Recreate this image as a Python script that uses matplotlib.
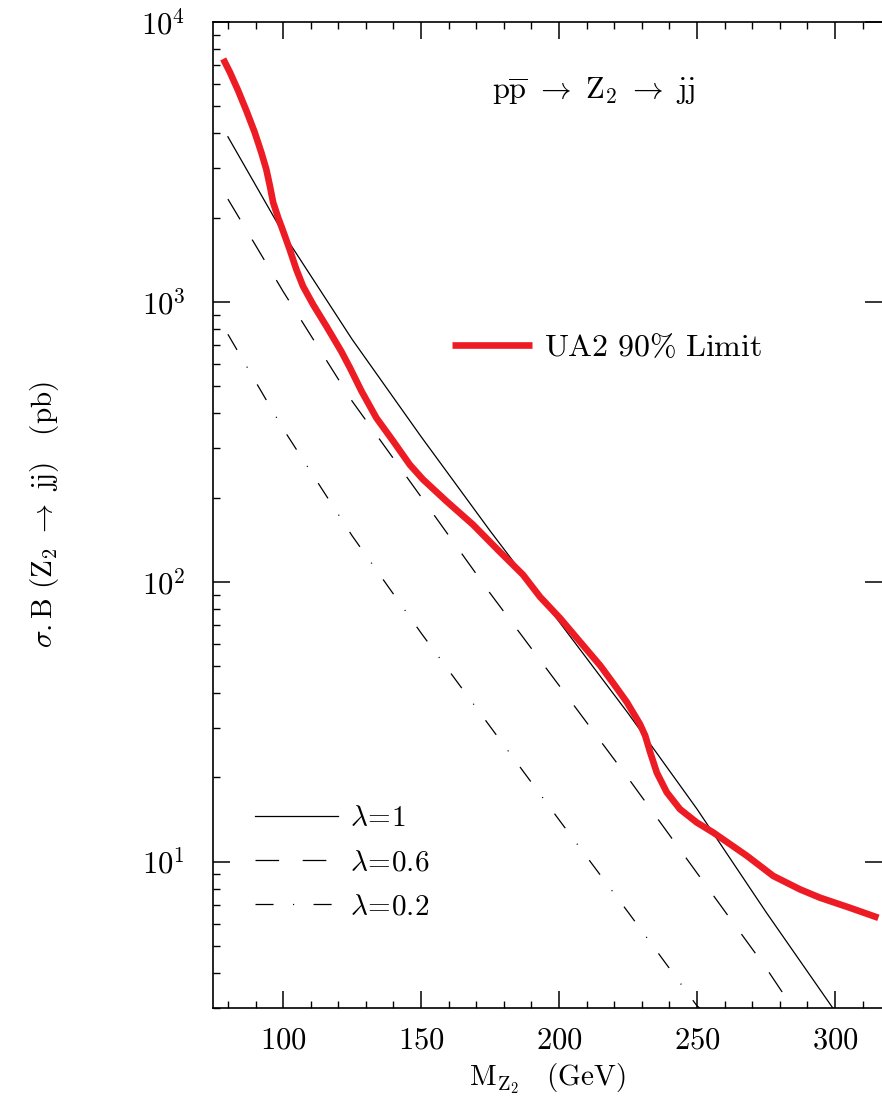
import matplotlib
matplotlib.use('Agg')
import matplotlib.pyplot as plt
from matplotlib.ticker import MultipleLocator, FuncFormatter, LogLocator, NullFormatter
import numpy as np

plt.rcParams['mathtext.fontset'] = 'cm'
plt.rcParams['font.family'] = ['DejaVu Serif']
plt.rcParams['lines.scale_dashes'] = False

# ---- data ----
mass_lam1 = [80, 100, 125, 150, 175, 200, 225, 250, 275, 300]
sigma_lam1 = [3890, 1760, 735, 330, 152, 72, 33.9, 15.4, 6.6, 2.92]

mass_lam06 = [80, 100, 125, 150, 175, 200, 225, 250, 275, 285]
sigma_lam06 = [2330, 1090, 442, 201, 91, 42.6, 19.9, 9.1, 4.17, 2.97]

mass_lam02 = [80, 100, 125, 150, 175, 200, 225, 250, 255]
sigma_lam02 = [766, 352, 146, 65.6, 30.4, 14.1, 6.6, 3.05, 2.8]

mass_ua2 = [78.3, 80.7, 83.7, 86.7, 89.7, 92.1, 93.9, 95.2, 96.4, 98.2,
            100, 102.4, 104.8, 107.2, 110.9, 115.7, 121.1, 124.2, 128.4, 133.8,
            139.9, 145.9, 150.7, 159.2, 168.8, 178.5, 186.9, 193.1, 200.4, 207.6,
            214.9, 219.7, 224.5, 229.3, 231.2, 233, 235.4, 239, 243.8, 249.9,
            255.9, 268, 277.6, 287.3, 294.6, 305.4, 315.7]
sigma_ua2 = [7379, 6622, 5689, 4819, 4036, 3420, 2979, 2600, 2265, 2000,
             1791, 1538, 1306, 1138, 977, 818, 665, 582, 480, 385,
             318, 262, 232, 194, 160, 128, 106, 88.3, 74.0, 61.0,
             50.2, 43.3, 37.2, 31.0, 28.2, 24.6, 20.8, 17.7, 15.4, 13.8,
             12.7, 10.5, 8.89, 7.96, 7.43, 6.84, 6.30]

labels_lam = [r'$\lambda\!=\!1$', r'$\lambda\!=\!0.6$', r'$\lambda\!=\!0.2$']
label_ua2 = r'$\mathrm{UA2\ 90\%\ Limit}$'

# ---- figure ----
fig = plt.figure(figsize=(8.82, 11.04), dpi=100)
ax = fig.add_axes([213 / 882, 1 - 1008 / 1104, 1 - 213 / 882, (1008 - 22) / 1104])

red = '#ED1C24'
l1, = ax.plot(mass_lam1, sigma_lam1, color='black', lw=0.9, label=labels_lam[0])
l2, = ax.plot(mass_lam06, sigma_lam06, color='black', lw=0.9,
              linestyle=(0, (17, 17)), label=labels_lam[1])
l3, = ax.plot(mass_lam02, sigma_lam02, color='black', lw=0.9,
              linestyle=(0, (13, 14, 0.8, 14)), label=labels_lam[2])
lr, = ax.plot(mass_ua2, sigma_ua2, color=red, lw=4.8, solid_capstyle='butt',
              solid_joinstyle='round', label=label_ua2)

ax.set_yscale('log')
ax.set_xlim(74.6, 317.0)
ax.set_ylim(3.0, 1e4)

ax.xaxis.set_major_locator(MultipleLocator(50))
ax.xaxis.set_minor_locator(MultipleLocator(10))
ax.xaxis.set_major_formatter(FuncFormatter(lambda v, p: r'$%d$' % v))
ax.yaxis.set_major_locator(LogLocator(base=10, numticks=10))
ax.yaxis.set_minor_locator(LogLocator(base=10, subs=np.arange(2, 10), numticks=20))
ax.yaxis.set_major_formatter(FuncFormatter(lambda v, p: r'$10^{%d}$' % round(np.log10(v))))
ax.yaxis.set_minor_formatter(NullFormatter())

ax.tick_params(which='both', direction='in', top=True, right=True)
ax.tick_params(which='major', length=12.5, width=1.1, labelsize=22)
ax.tick_params(axis='x', which='major', pad=12)
ax.tick_params(axis='y', which='major', pad=20)
ax.tick_params(which='minor', length=5, width=1.0)
ax.tick_params(axis='y', which='minor', right=False)

for s in ax.spines.values():
    s.set_linewidth(1.2)
ax.spines['right'].set_visible(False)

ax.set_xlabel(r'$\mathrm{M_{Z_2}}\quad\mathrm{(GeV)}$', fontsize=21, labelpad=4)
ax.set_ylabel(r'$\sigma\mathrm{.B}\ (\mathrm{Z_2}\ \rightarrow\ \mathrm{jj})\quad(\mathrm{pb})$',
              fontsize=21, labelpad=58)

ax.text(0.568, 0.929, r'$\mathrm{p\overline{p}}\ \rightarrow\ \mathrm{Z_2}\ \rightarrow\ \mathrm{jj}$',
        transform=ax.transAxes, ha='center', va='center', fontsize=22)

leg1 = ax.legend(handles=[l1, l2, l3], loc='center left', bbox_to_anchor=(0.0628, 0.148),
                 frameon=False, fontsize=21, handlelength=2.84, handletextpad=0.41,
                 borderpad=0, borderaxespad=0, labelspacing=0.55)
ax.add_artist(leg1)
ax.legend(handles=[lr], loc='center left', bbox_to_anchor=(0.357, 0.670),
          frameon=False, fontsize=23, handlelength=2.5, handletextpad=0.4,
          borderpad=0, borderaxespad=0)

fig.savefig('out.png', dpi=100)
